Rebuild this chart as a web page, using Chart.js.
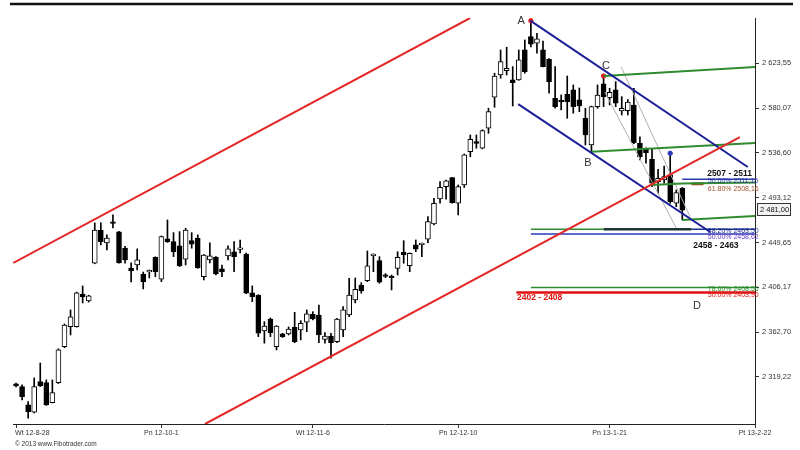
<!DOCTYPE html>
<html><head><meta charset="utf-8">
<script src="https://cdn.jsdelivr.net/npm/chart.js@4.4.1/dist/chart.umd.min.js"></script>
<style>html,body{margin:0;padding:0;background:#fff}canvas{display:block}</style>
</head><body>
<canvas id="c" width="800" height="450"></canvas>
<script>
// ---- data ----
const xTickIdx = [0, 24, 49, 73, 98, 122];
const xTickLabels = ['Wt 12-8-28', 'Pn 12-10-1', 'Wt 12-11-6', 'Pn 12-12-10', 'Pn 13-1-21', 'Pt 13-2-22'];
const yTicks = [2319.22, 2362.70, 2406.17, 2449.65, 2493.12, 2536.60, 2580.07, 2623.55];

const open = [2312.4,2309.8,2292.0,2284.9,2314.6,2313.6,2294.2,2313.6,2348.6,2368.0,
2368.0,2399.7,2392.9,2429.5,2461.8,2449.2,2469.0,2459.9,2444.3,2424.9,
2427.8,2419.1,2421.2,2435.3,2414.0,2453.1,2450.5,2446.3,2433.4,2451.4,
2454.0,2416.5,2432.7,2435.6,2424.0,2436.6,2440.5,2443.0,2438.5,2400.7,
2398.7,2363.8,2375.4,2348.6,2360.9,2360.9,2367.4,2364.8,2372.2,2380.0,
2379.3,2355.7,2358.9,2353.4,2364.8,2379.3,2393.9,2408.4,2412.6,2436.9,
2432.0,2418.1,2416.2,2424.6,2440.2,2427.2,2447.3,2447.6,2452.8,2467.6,
2491.9,2503.8,2512.6,2487.7,2505.5,2537.8,2547.5,2541.1,2560.5,2590.6,
2612.2,2616.4,2607.4,2607.4,2636.5,2649.4,2643.0,2636.5,2627.5,2589.6,
2587.8,2593.5,2597.7,2588.0,2570.2,2544.3,2581.5,2603.5,2590.2,2597.7,
2577.3,2577.6,2583.1,2545.9,2540.1,2530.4,2508.7,2510.3,2515.2,2487.7,
2502.3];
const high = [2313.3,2311.4,2295.2,2318.2,2332.7,2316.3,2316.3,2346.5,2370.6,2384.2,
2401.5,2407.5,2398.5,2468.6,2468.9,2457.0,2476.4,2460.5,2446.0,2429.8,
2443.4,2421.0,2423.0,2435.8,2456.0,2471.5,2459.2,2460.2,2463.5,2459.2,
2457.0,2438.0,2449.2,2436.0,2427.8,2446.3,2450.5,2452.1,2439.5,2407.5,
2399.0,2372.8,2376.4,2369.0,2361.5,2367.7,2381.9,2373.8,2384.2,2382.5,
2389.0,2362.1,2361.6,2376.0,2387.4,2414.9,2415.2,2410.7,2441.4,2438.6,
2435.9,2419.5,2418.1,2440.7,2451.4,2439.5,2452.1,2449.0,2474.7,2492.6,
2508.7,2510.3,2513.0,2505.5,2535.5,2554.0,2554.0,2559.0,2579.9,2613.9,
2636.5,2639.1,2620.3,2636.5,2646.2,2664.9,2652.7,2645.0,2628.0,2620.3,
2592.8,2611.2,2602.5,2599.6,2579.9,2582.0,2602.5,2610.6,2599.3,2605.7,
2591.2,2588.4,2599.3,2552.3,2541.4,2541.1,2520.7,2523.9,2536.2,2500.6,
2503.0];
const low = [2309.5,2296.8,2279.1,2284.2,2309.8,2291.5,2293.9,2312.8,2347.5,2359.9,
2367.5,2391.0,2391.8,2429.0,2447.3,2442.4,2463.7,2429.5,2429.5,2411.3,
2423.0,2404.6,2415.2,2416.5,2411.6,2449.8,2435.9,2426.3,2427.8,2444.1,
2424.6,2413.3,2429.8,2418.1,2416.5,2432.7,2421.3,2439.5,2400.0,2392.2,
2358.3,2351.9,2358.3,2345.4,2357.5,2359.9,2352.4,2355.1,2363.1,2374.5,
2352.4,2351.9,2337.3,2352.5,2358.3,2377.7,2391.0,2400.4,2411.6,2421.3,
2410.1,2415.5,2403.6,2418.1,2429.5,2421.3,2440.7,2435.9,2449.5,2466.7,
2487.7,2491.6,2487.8,2476.4,2503.0,2532.9,2541.1,2540.5,2555.6,2580.9,
2609.0,2612.2,2582.1,2607.0,2613.9,2639.4,2633.3,2620.0,2594.5,2579.9,
2578.3,2570.2,2575.1,2576.6,2544.3,2537.8,2579.9,2581.5,2583.1,2581.5,
2573.4,2573.4,2545.5,2529.7,2526.5,2503.8,2497.4,2507.1,2487.7,2484.4,
2471.5];
const close = [2310.4,2300.0,2285.5,2309.8,2310.4,2292.0,2303.9,2345.4,2369.6,2377.4,
2400.7,2396.8,2397.8,2461.8,2450.5,2454.0,2468.2,2429.8,2432.7,2422.0,
2432.7,2411.3,2422.3,2421.3,2455.3,2450.2,2440.7,2426.9,2461.8,2447.9,
2424.9,2437.5,2436.6,2419.1,2421.3,2443.4,2435.9,2443.8,2400.4,2397.1,
2361.6,2368.6,2362.1,2368.6,2358.3,2365.7,2353.4,2371.3,2380.3,2375.4,
2359.9,2358.9,2352.4,2375.2,2384.2,2398.7,2404.3,2402.6,2426.9,2438.2,
2411.1,2416.8,2415.6,2435.3,2437.5,2439.2,2443.1,2448.2,2469.9,2487.7,
2503.2,2509.6,2488.3,2503.8,2534.6,2549.8,2545.9,2558.2,2576.6,2611.2,
2625.1,2618.7,2604.7,2626.8,2615.4,2642.0,2647.2,2620.3,2605.7,2581.5,
2586.0,2586.3,2581.5,2582.1,2554.0,2581.5,2592.8,2591.2,2595.4,2584.8,
2579.9,2586.0,2546.5,2532.9,2536.8,2507.1,2512.0,2513.5,2489.3,2498.0,
2481.0];
const lastPrice = 2481.00;

// drawn trend lines / levels (index, value)
const redUpper  = [{x:-0.45,y:2429.8},{x:74.97,y:2667.5}];
const redLower  = [{x:31.2,y:2273.5},{x:119.5,y:2552.0}];
const blueUpper = [{x:84.9,y:2664.9},{x:120.8,y:2522.9}];
const blueLower = [{x:82.9,y:2584.0},{x:114.6,y:2459.8}];
const greenC    = [{x:97,y:2611.2},{x:122,y:2620.0}];
const greenB    = [{x:95,y:2537.8},{x:122,y:2546.2}];
const greenLow  = [{x:110,y:2471.5},{x:122,y:2475.3}];
const greenMid  = [{x:104.9,y:2505.5},{x:110,y:2507.0},{x:122,y:2507.8}];
const grayA     = [{x:99.9,y:2620.0},{x:111.3,y:2474.4}];
const grayB     = [{x:97.2,y:2595.7},{x:109.0,y:2463.7}];
const fib2511   = [{x:110,y:2511.0},{x:122,y:2511.0}];
const fib2507   = [{x:111.5,y:2506.6},{x:113.5,y:2506.6}];
const fib2463g  = [{x:85,y:2462.5},{x:97,y:2462.5}];
const fib2463d  = [{x:97,y:2462.5},{x:111.5,y:2462.5}];
const fib2463b  = [{x:111.5,y:2462.5},{x:122,y:2462.5}];
const fib2458   = [{x:85,y:2458.0},{x:122,y:2458.0}];
const fib2406   = [{x:85,y:2406.0},{x:122,y:2406.0}];
const fib2401   = [{x:82.6,y:2401.2},{x:122,y:2401.2}];
const redDots   = [{x:85,y:2664.9},{x:97,y:2611.2}];
const blueDots  = [{x:108,y:2536.2}];

const notes = [
  {t:'A', x:83.4, y:2664.6, f:'11px', c:'#333', a:'center'},
  {t:'B', x:94.4, y:2526.8, f:'11px', c:'#333', a:'center'},
  {t:'C', x:97.4, y:2621.0, f:'11px', c:'#333', a:'center'},
  {t:'D', x:112.4, y:2388.1, f:'11px', c:'#333', a:'center'},
  {t:'2507 - 2511', x:114.1, y:2516.2, f:'bold 8.5px', c:'#111', a:'left'},
  {t:'2458 - 2463', x:111.8, y:2446.3, f:'bold 8.5px', c:'#111', a:'left'},
  {t:'2402 - 2408', x:82.7, y:2395.8, f:'bold 8.5px', c:'#e01010', a:'left'},
  {t:'50.00% 2511,15', x:114.2, y:2508.9, f:'7px', c:'#2a3aa8', a:'left'},
  {t:'61.80% 2508,16', x:114.2, y:2501.1, f:'7px', c:'#a0522d', a:'left'},
  {t:'38.20% 2463,50', x:114.2, y:2460.8, f:'7px', c:'#1f2f8f', a:'left'},
  {t:'50.00% 2458,62', x:114.2, y:2454.5, f:'7px', c:'#6a3fc8', a:'left'},
  {t:'78.60% 2408,56', x:114.2, y:2404.1, f:'7px', c:'#2e8b2e', a:'left'},
  {t:'50.00% 2403,90', x:114.2, y:2398.2, f:'7px', c:'#e01010', a:'left'}
];

// ---- chart ----
const FONT = "'Liberation Sans', Arial, sans-serif";
Chart.defaults.font.family = FONT;

function fmt(v){
  const s = v.toFixed(2).split('.');
  return s[0].replace(/\B(?=(\d{3})+(?!\d))/g, ' ') + ',' + s[1];
}
function seg(data, color, width, order){
  return {type:'line', data, borderColor:color, borderWidth:width, pointRadius:0,
          fill:false, tension:0, order: order ?? 0};
}
function dots(data, color){
  return {type:'line', data, showLine:false, pointRadius:2.2, pointBackgroundColor:color,
          pointBorderColor:color, order:0};
}
const up = i => close[i] >= open[i];

const overlay = {
  id:'overlay',
  afterDraw(chart){
    const c = chart.ctx, xs = chart.scales.x, ys = chart.scales.y;
    c.save();
    // top frame line
    c.strokeStyle = '#111'; c.lineWidth = 2.5;
    c.beginPath(); c.moveTo(10, 4); c.lineTo(793, 4); c.stroke();
    // x labels
    c.fillStyle = '#333'; c.font = '7px ' + FONT; c.textBaseline = 'middle';
    xTickIdx.forEach((v, k) => {
      const px = xs.getPixelForValue(v);
      c.textAlign = k === 0 ? 'left' : 'center';
      c.fillText(xTickLabels[k], k === 0 ? px - 1 : px, 433);
    });
    // notes
    notes.forEach(n => {
      c.font = n.f + ' ' + FONT; c.fillStyle = n.c; c.textAlign = n.a; c.textBaseline = 'middle';
      c.fillText(n.t, xs.getPixelForValue(n.x), ys.getPixelForValue(n.y));
    });
    // last price box
    const py = Math.round(ys.getPixelForValue(lastPrice));
    c.fillStyle = '#f2f2f2'; c.strokeStyle = '#333'; c.lineWidth = 1;
    c.fillRect(757.5, py - 6.5, 33, 12); c.strokeRect(757.5, py - 6.5, 33, 12);
    c.fillStyle = '#111'; c.font = '7.5px ' + FONT; c.textAlign = 'left';
    c.fillText(fmt(lastPrice), 760, py);
    // copyright
    c.fillStyle = '#333'; c.font = '6.5px ' + FONT; c.textAlign = 'left';
    c.fillText('\u00A9 2013 www.Fibotrader.com', 15, 444);
    c.restore();
  }
};

new Chart(document.getElementById('c'), {
  type: 'bar',
  data: {
    datasets: [
      seg(redUpper, '#e32626', 2),
      seg(redLower, '#e32626', 2),
      seg(blueUpper, '#1c1f96', 2),
      seg(blueLower, '#1c1f96', 2),
      seg(greenC, '#2e8b2e', 2),
      seg(greenB, '#2e8b2e', 2),
      seg(greenLow, '#2e8b2e', 2),
      seg(greenMid, '#2e8b2e', 2),
      seg(grayA, '#b0b0b0', 1),
      seg(grayB, '#b0b0b0', 1),
      seg(fib2511, '#2a3aa8', 1.5),
      seg(fib2507, '#a0522d', 3),
      seg(fib2463g, '#2e8b2e', 1.5),
      seg(fib2463d, '#1e3434', 2.5),
      seg(fib2463b, '#1f2f8f', 1.5),
      seg(fib2458, '#2a3ab8', 1.5),
      seg(fib2406, '#2e8b2e', 1.5),
      seg(fib2401, '#e01010', 2.5),
      dots(redDots, '#e02020'),
      dots(blueDots, '#2a3ab8'),
      {
        type:'bar', order:1, grouped:false,
        data: open.map((o, i) => ({x:i, y:[o, close[i]]})),
        barThickness:5, minBarLength:1.5, borderWidth:1, borderSkipped:false,
        borderColor:'#000',
        backgroundColor: ctx => up(ctx.dataIndex) ? '#ffffff' : '#000000'
      },
      {
        type:'bar', order:2, grouped:false,
        data: low.map((l, i) => ({x:i, y:[l, high[i]]})),
        barThickness:1, borderWidth:0, backgroundColor:'#000'
      }
    ]
  },
  options: {
    responsive:false, animation:false,
    layout:{padding:{left:13, top:18, right:0, bottom:0}},
    plugins:{legend:{display:false}, tooltip:{enabled:false}},
    scales:{
      x:{
        type:'linear', min:-0.5, max:122, offset:false,
        grid:{display:true, offset:false, drawOnChartArea:false, drawTicks:true, tickLength:4, color:'#333'},
        border:{display:true, color:'#222', width:1},
        ticks:{display:false},
        afterBuildTicks: s => { s.ticks = xTickIdx.map(v => ({value:v})); },
        afterFit: s => { s.height = 26; }
      },
      y:{
        position:'right', min:2273.5, max:2667.5,
        grid:{display:true, drawOnChartArea:false, drawTicks:true, tickLength:4, color:'#333'},
        border:{display:true, color:'#222', width:1},
        ticks:{color:'#333', font:{size:7.5}, padding:3, callback: v => fmt(v)},
        afterBuildTicks: s => { s.ticks = yTicks.map(v => ({value:v})); },
        afterFit: s => { s.width = 45; }
      }
    }
  },
  plugins:[overlay]
});
</script>
</body></html>
